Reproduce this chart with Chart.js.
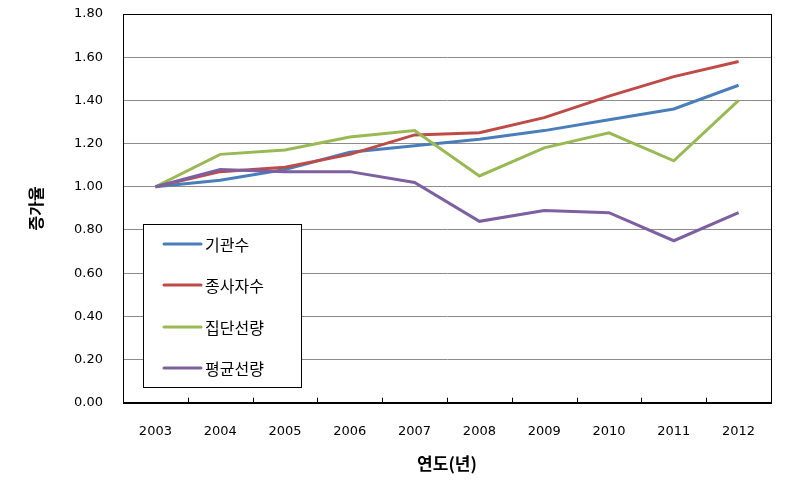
<!DOCTYPE html>
<html>
<head>
<meta charset="utf-8">
<script src="https://cdn.jsdelivr.net/npm/chart.js@4"></script>
<style>
    html, body { margin: 0; padding: 0; background: #fff; }
    #wrap { width: 789px; height: 484px; }
</style>
</head>
<body>
<div id="wrap"><canvas id="rateChart" width="789" height="484"></canvas></div>
<script>
// data
const years = ['2003', '2004', '2005', '2006', '2007', '2008', '2009', '2010', '2011', '2012'];
const seriesNames = ['기관수', '종사자수', '집단선량', '평균선량'];
const agencyValues = [1.00, 1.03, 1.08, 1.16, 1.19, 1.22, 1.26, 1.31, 1.36, 1.47];
const workerValues = [1.00, 1.07, 1.09, 1.15, 1.24, 1.25, 1.32, 1.42, 1.51, 1.58];
const collectiveValues = [1.00, 1.15, 1.17, 1.23, 1.26, 1.05, 1.18, 1.25, 1.12, 1.40];
const averageValues = [1.00, 1.08, 1.07, 1.07, 1.02, 0.84, 0.89, 0.88, 0.75, 0.88];
const yTicks = [0, 0.2, 0.4, 0.6, 0.8, 1.0, 1.2, 1.4, 1.6, 1.8];

const seriesColours = ['#4a7ebb', '#be4b48', '#98b954', '#7d60a0'];

const tickFont = { family: 'DejaVu Sans', size: 13 };
const koreanFont = '"Noto Sans CJK KR"';

// frame, inside x tick marks and the boxed legend
const framePlugin = {
    id: 'frame',
    beforeDatasetsDraw(chart) {
        const { ctx, chartArea: a } = chart;
        const xScale = chart.scales.x;
        ctx.save();
        ctx.strokeStyle = '#000';
        ctx.lineWidth = 1;
        ctx.beginPath();
        for (let i = 0; i < years.length - 1; i++) {
            const px = Math.round((xScale.getPixelForValue(i) + xScale.getPixelForValue(i + 1)) / 2) + 0.5;
            ctx.moveTo(px, a.bottom);
            ctx.lineTo(px, a.bottom - 5);
        }
        ctx.stroke();
        ctx.strokeRect(Math.round(a.left) + 0.5, Math.round(a.top) + 0.5,
            Math.round(a.right - a.left), Math.round(a.bottom - a.top));
        ctx.restore();
    },
    afterDraw(chart) {
        const ctx = chart.ctx;
        const box = { x: 143.5, y: 224.5, w: 158, h: 163 };
        const rows = [244, 285, 327, 368];
        ctx.save();
        ctx.fillStyle = '#fff';
        ctx.fillRect(box.x, box.y, box.w, box.h);
        ctx.strokeStyle = '#000';
        ctx.lineWidth = 1;
        ctx.strokeRect(box.x, box.y, box.w, box.h);
        chart.data.datasets.forEach((ds, i) => {
            ctx.strokeStyle = ds.borderColor;
            ctx.lineWidth = 3;
            ctx.lineCap = 'round';
            ctx.beginPath();
            ctx.moveTo(164, rows[i]);
            ctx.lineTo(201, rows[i]);
            ctx.stroke();
            ctx.fillStyle = '#000';
            ctx.font = '16px ' + koreanFont;
            ctx.textBaseline = 'middle';
            ctx.textAlign = 'left';
            ctx.fillText(ds.label, 205, rows[i] + 1);
        });
        ctx.restore();
    }
};

function makeDataset(i, values) {
    return {
        label: seriesNames[i],
        data: values,
        borderColor: seriesColours[i],
        backgroundColor: seriesColours[i],
        borderWidth: 3,
        pointRadius: 0,
        tension: 0,
        order: 3 - i
    };
}

const ctx = document.getElementById('rateChart').getContext('2d');
new Chart(ctx, {
    type: 'line',
    data: {
        labels: years,
        datasets: [
            makeDataset(0, agencyValues),
            makeDataset(1, workerValues),
            makeDataset(2, collectiveValues),
            makeDataset(3, averageValues)
        ]
    },
    options: {
        responsive: false,
        animation: false,
        layout: { padding: { left: 0, right: 18, top: 14, bottom: 0 } },
        plugins: {
            legend: { display: false },
            tooltip: { enabled: false }
        },
        scales: {
            x: {
                type: 'category',
                offset: true,
                grid: { display: false },
                border: { display: true, color: '#000', width: 1 },
                ticks: { font: tickFont, color: '#000', padding: 13, maxRotation: 0 },
                title: {
                    display: true,
                    text: '연도(년)',
                    color: '#000',
                    font: { family: koreanFont, size: 17, weight: 'bold' },
                    padding: { top: 0, bottom: 10 }
                },
                afterFit: scale => {
                    scale.height = 81.3;
                    scale.paddingLeft = 0;
                    scale.paddingRight = 0;
                }
            },
            y: {
                min: 0,
                max: 1.8,
                afterBuildTicks: scale => { scale.ticks = yTicks.map(v => ({ value: v })); },
                grid: { color: '#8c8c8c', lineWidth: 1, drawTicks: false },
                border: { display: true, color: '#000', width: 1 },
                ticks: {
                    font: tickFont,
                    color: '#000',
                    padding: 20,
                    callback: value => Number(value).toFixed(2)
                },
                title: {
                    display: true,
                    text: '증가율',
                    color: '#000',
                    font: { family: koreanFont, size: 16, weight: 'bold' },
                    padding: { top: 26, bottom: 0 }
                },
                afterFit: scale => {
                    scale.width = 123;
                    scale.paddingTop = 0;
                    scale.paddingBottom = 0;
                }
            }
        }
    },
    plugins: [framePlugin]
});
</script>
</body>
</html>
